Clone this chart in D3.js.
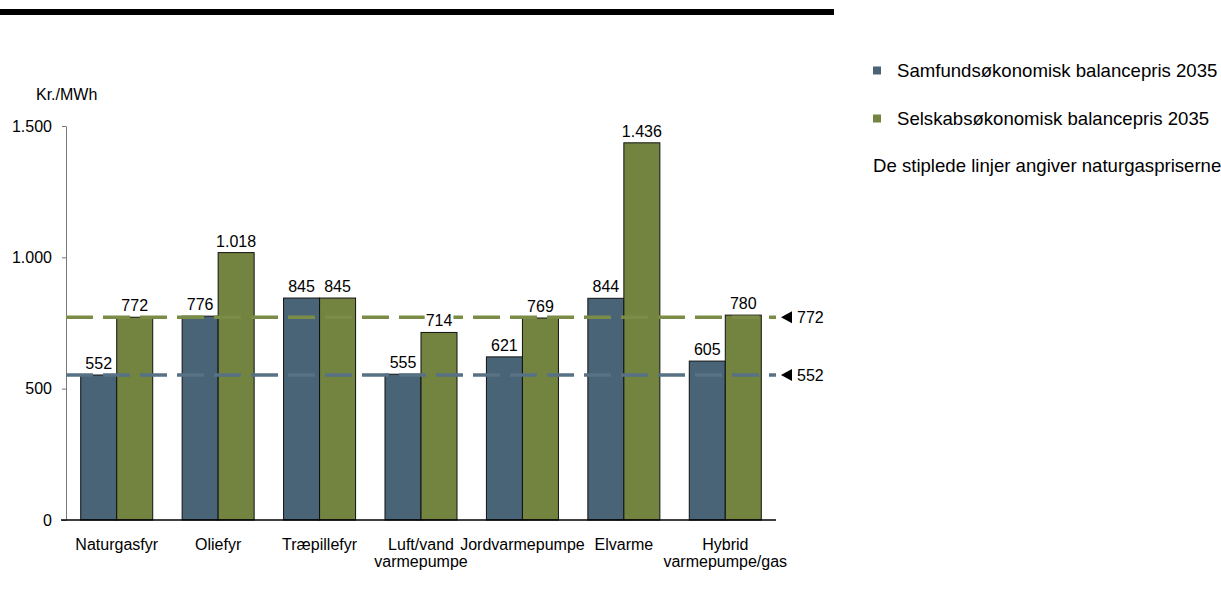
<!DOCTYPE html>
<html>
<head>
<meta charset="utf-8">
<script src="https://cdn.jsdelivr.net/npm/d3@7"></script>
<style>
  body { margin: 0; background: #fff; }
  text { font-family: "Liberation Sans", Arial, sans-serif; fill: #000; }
</style>
</head>
<body>
<svg id="chart" width="1221" height="613"></svg>
<script>
// data
const categories = [
  ["Naturgasfyr"], ["Oliefyr"], ["Træpillefyr"], ["Luft/vand", "varmepumpe"],
  ["Jordvarmepumpe"], ["Elvarme"], ["Hybrid", "varmepumpe/gas"]
]
const seriesNames = ["Samfundsøkonomisk balancepris 2035", "Selskabsøkonomisk balancepris 2035"]
const samfund = [552, 776, 845, 555, 621, 844, 605]
const selskab = [772, 1018, 845, 714, 769, 1436, 780]
const gasPrices = [552, 772]   // naturgaspriser (stiplede linjer)
const yTicks = [0, 500, 1000, 1500]
const yLabel = "Kr./MWh"
const note = "De stiplede linjer angiver naturgaspriserne"

const colors = ["#4a6477", "#728440"]
const dashColors = ["#587184", "#7b8c47"]

const svg = d3.select("#chart")
const fmt = d3.formatLocale({decimal: ",", thousands: ".", grouping: [3], currency: ["", ""]}).format(",d")

// top rule
svg.append("rect").attr("x", 0).attr("y", 9).attr("width", 834).attr("height", 6).attr("fill", "#000")

const x0 = d3.scaleBand()
  .domain(categories.map((d, i) => i))
  .range([66, 776])
  .paddingInner(0.29)
  .paddingOuter(0.145)

const x1 = d3.scaleBand()
  .domain([0, 1])
  .range([0, x0.bandwidth()])

const y = d3.scaleLinear()
  .domain([0, 1500])
  .range([520, 126])

// y axis
const yAxis = svg.append("g")
  .attr("transform", "translate(66,0)")
  .call(d3.axisLeft(y).tickValues(yTicks).tickFormat(fmt).tickSize(4).tickSizeOuter(0).tickPadding(10))
yAxis.select(".domain").attr("stroke", "#777")
yAxis.selectAll(".tick line").attr("stroke", "#777")
yAxis.selectAll(".tick text").style("font-size", "16px")

svg.append("text").attr("x", 36).attr("y", 100).style("font-size", "16px").text(yLabel)

// bars
const rows = categories.map((c, i) => [samfund[i], selskab[i]])
const groups = svg.append("g").selectAll("g")
  .data(rows)
  .join("g")
  .attr("transform", (d, i) => `translate(${x0(i)},0)`)

groups.selectAll("rect")
  .data(d => d)
  .join("rect")
  .attr("x", (d, j) => x1(j))
  .attr("y", d => y(d))
  .attr("width", x1.bandwidth())
  .attr("height", d => y(0) - y(d))
  .attr("fill", (d, j) => colors[j])
  .attr("stroke", "#111")
  .attr("stroke-width", 1)

// x axis line
svg.append("line")
  .attr("x1", 61).attr("x2", 776)
  .attr("y1", y(0)).attr("y2", y(0))
  .attr("stroke", "#000").attr("stroke-width", 1.3)

// category labels
svg.append("g").selectAll("text")
  .data(categories)
  .join("text")
  .attr("text-anchor", "middle")
  .style("font-size", "16px")
  .attr("transform", (d, i) => `translate(${x0(i) + x0.bandwidth() / 2},550)`)
  .selectAll("tspan")
  .data(d => d)
  .join("tspan")
  .attr("x", 0)
  .attr("y", (d, k) => k * 17)
  .text(d => d)

// dashed gas price lines with markers
gasPrices.forEach((v, i) => {
  svg.append("line")
    .attr("x1", 66).attr("x2", 776)
    .attr("y1", y(v)).attr("y2", y(v))
    .attr("stroke", dashColors[i])
    .attr("stroke-width", 3.5)
    .attr("stroke-dasharray", "27 10")
  const yy = y(v)
  svg.append("path")
    .attr("d", `M781,${yy} L792,${yy - 6} L792,${yy + 6} Z`)
    .attr("fill", "#000")
  svg.append("text")
    .attr("x", 797).attr("y", yy)
    .attr("dy", "0.35em")
    .style("font-size", "16px")
    .text(fmt(v))
})

// value labels (white box behind, on top of the dashed lines)
const labels = svg.append("g")
rows.forEach((r, i) => {
  r.forEach((v, j) => {
    const g = labels.append("g")
    const t = g.append("text")
      .attr("x", x0(i) + x1(j) + x1.bandwidth() / 2)
      .attr("y", y(v) - 6)
      .attr("text-anchor", "middle")
      .style("font-size", "16px")
      .text(fmt(v))
    const b = t.node().getBBox()
    g.insert("rect", "text")
      .attr("x", b.x - 1).attr("y", b.y + 1)
      .attr("width", b.width + 2).attr("height", b.height - 1)
      .attr("fill", "#fff")
  })
})

// legend
const legend = svg.append("g")
seriesNames.forEach((name, i) => {
  const by = 77 + i * 48
  legend.append("rect")
    .attr("x", 873).attr("y", by - 10.5)
    .attr("width", 8).attr("height", 8)
    .attr("fill", colors[i])
  legend.append("text")
    .attr("x", 897).attr("y", by)
    .style("font-size", "18.6px")
    .text(name)
})
legend.append("text")
  .attr("x", 873).attr("y", 172)
  .style("font-size", "18.6px")
  .text(note)
</script>
</body>
</html>
